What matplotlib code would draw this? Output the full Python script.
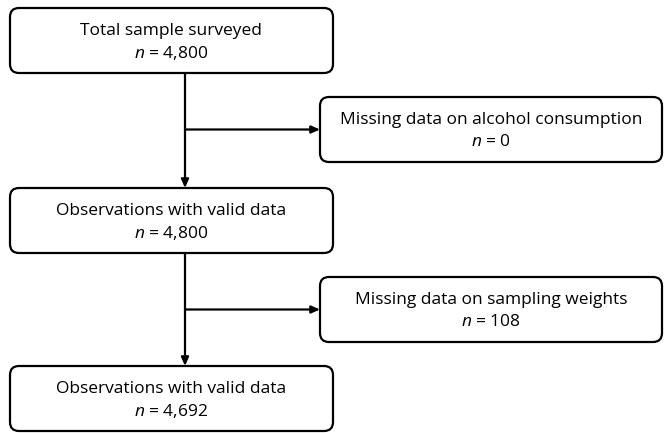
#!/usr/bin/env python3
"""Flow chart of sample selection."""

import matplotlib
matplotlib.use("Agg")
import matplotlib.pyplot as plt
from matplotlib.patches import FancyBboxPatch

plt.rcParams["font.family"] = "Open Sans"
plt.rcParams["mathtext.fontset"] = "custom"
plt.rcParams["mathtext.rm"] = "Open Sans"
plt.rcParams["mathtext.it"] = "Open Sans:italic"

# data
main_labels = ["Total sample surveyed",
               "Observations with valid data",
               "Observations with valid data"]
main_counts = [4800, 4800, 4692]
excl_labels = ["Missing data on alcohol consumption",
               "Missing data on sampling weights"]
excl_counts = [0, 108]

# layout (pixel coords, y downwards)
W, H = 665, 433
MAIN_X = (10, 333)
MAIN_Y = [(8, 73), (188, 253), (366, 431)]
EXCL_X = (320, 662)
EXCL_Y = [(97, 162), (277, 342)]
SPINE_X = 185
LW = 1.6
FS = 12.5


def box(ax, x0, x1, y0, y1, label, n):
    ax.add_patch(FancyBboxPatch((x0, y0), x1 - x0, y1 - y0,
                                boxstyle="round,pad=0,rounding_size=9",
                                facecolor="white", edgecolor="black", linewidth=LW))
    cx, cy = (x0 + x1) / 2, (y0 + y1) / 2
    ax.text(cx, cy - 9.5, label, ha="center", va="center", fontsize=FS)
    ax.text(cx, cy + 12.5, f"$n$ = {n:,}", ha="center", va="center", fontsize=FS)


def arrow(ax, x0, y0, x1, y1):
    ax.annotate("", xy=(x1, y1), xytext=(x0, y0),
                arrowprops=dict(arrowstyle="-|>,head_length=0.5,head_width=0.22",
                                color="black", lw=LW, shrinkA=0, shrinkB=0))


def main():
    fig = plt.figure(figsize=(W / 100, H / 100), dpi=100)
    ax = fig.add_axes([0, 0, 1, 1])
    ax.set_xlim(0, W)
    ax.set_ylim(H, 0)
    ax.axis("off")

    for (y0, y1), lab, n in zip(MAIN_Y, main_labels, main_counts):
        box(ax, MAIN_X[0], MAIN_X[1], y0, y1, lab, n)
    for (y0, y1), lab, n in zip(EXCL_Y, excl_labels, excl_counts):
        box(ax, EXCL_X[0], EXCL_X[1], y0, y1, lab, n)

    # vertical arrows between main boxes, side arrows to exclusions
    for i in range(len(MAIN_Y) - 1):
        arrow(ax, SPINE_X, MAIN_Y[i][1], SPINE_X, MAIN_Y[i + 1][0])
        ey = (EXCL_Y[i][0] + EXCL_Y[i][1]) / 2
        arrow(ax, SPINE_X, ey, EXCL_X[0], ey)

    fig.savefig("out.png", dpi=100)


if __name__ == "__main__":
    main()
